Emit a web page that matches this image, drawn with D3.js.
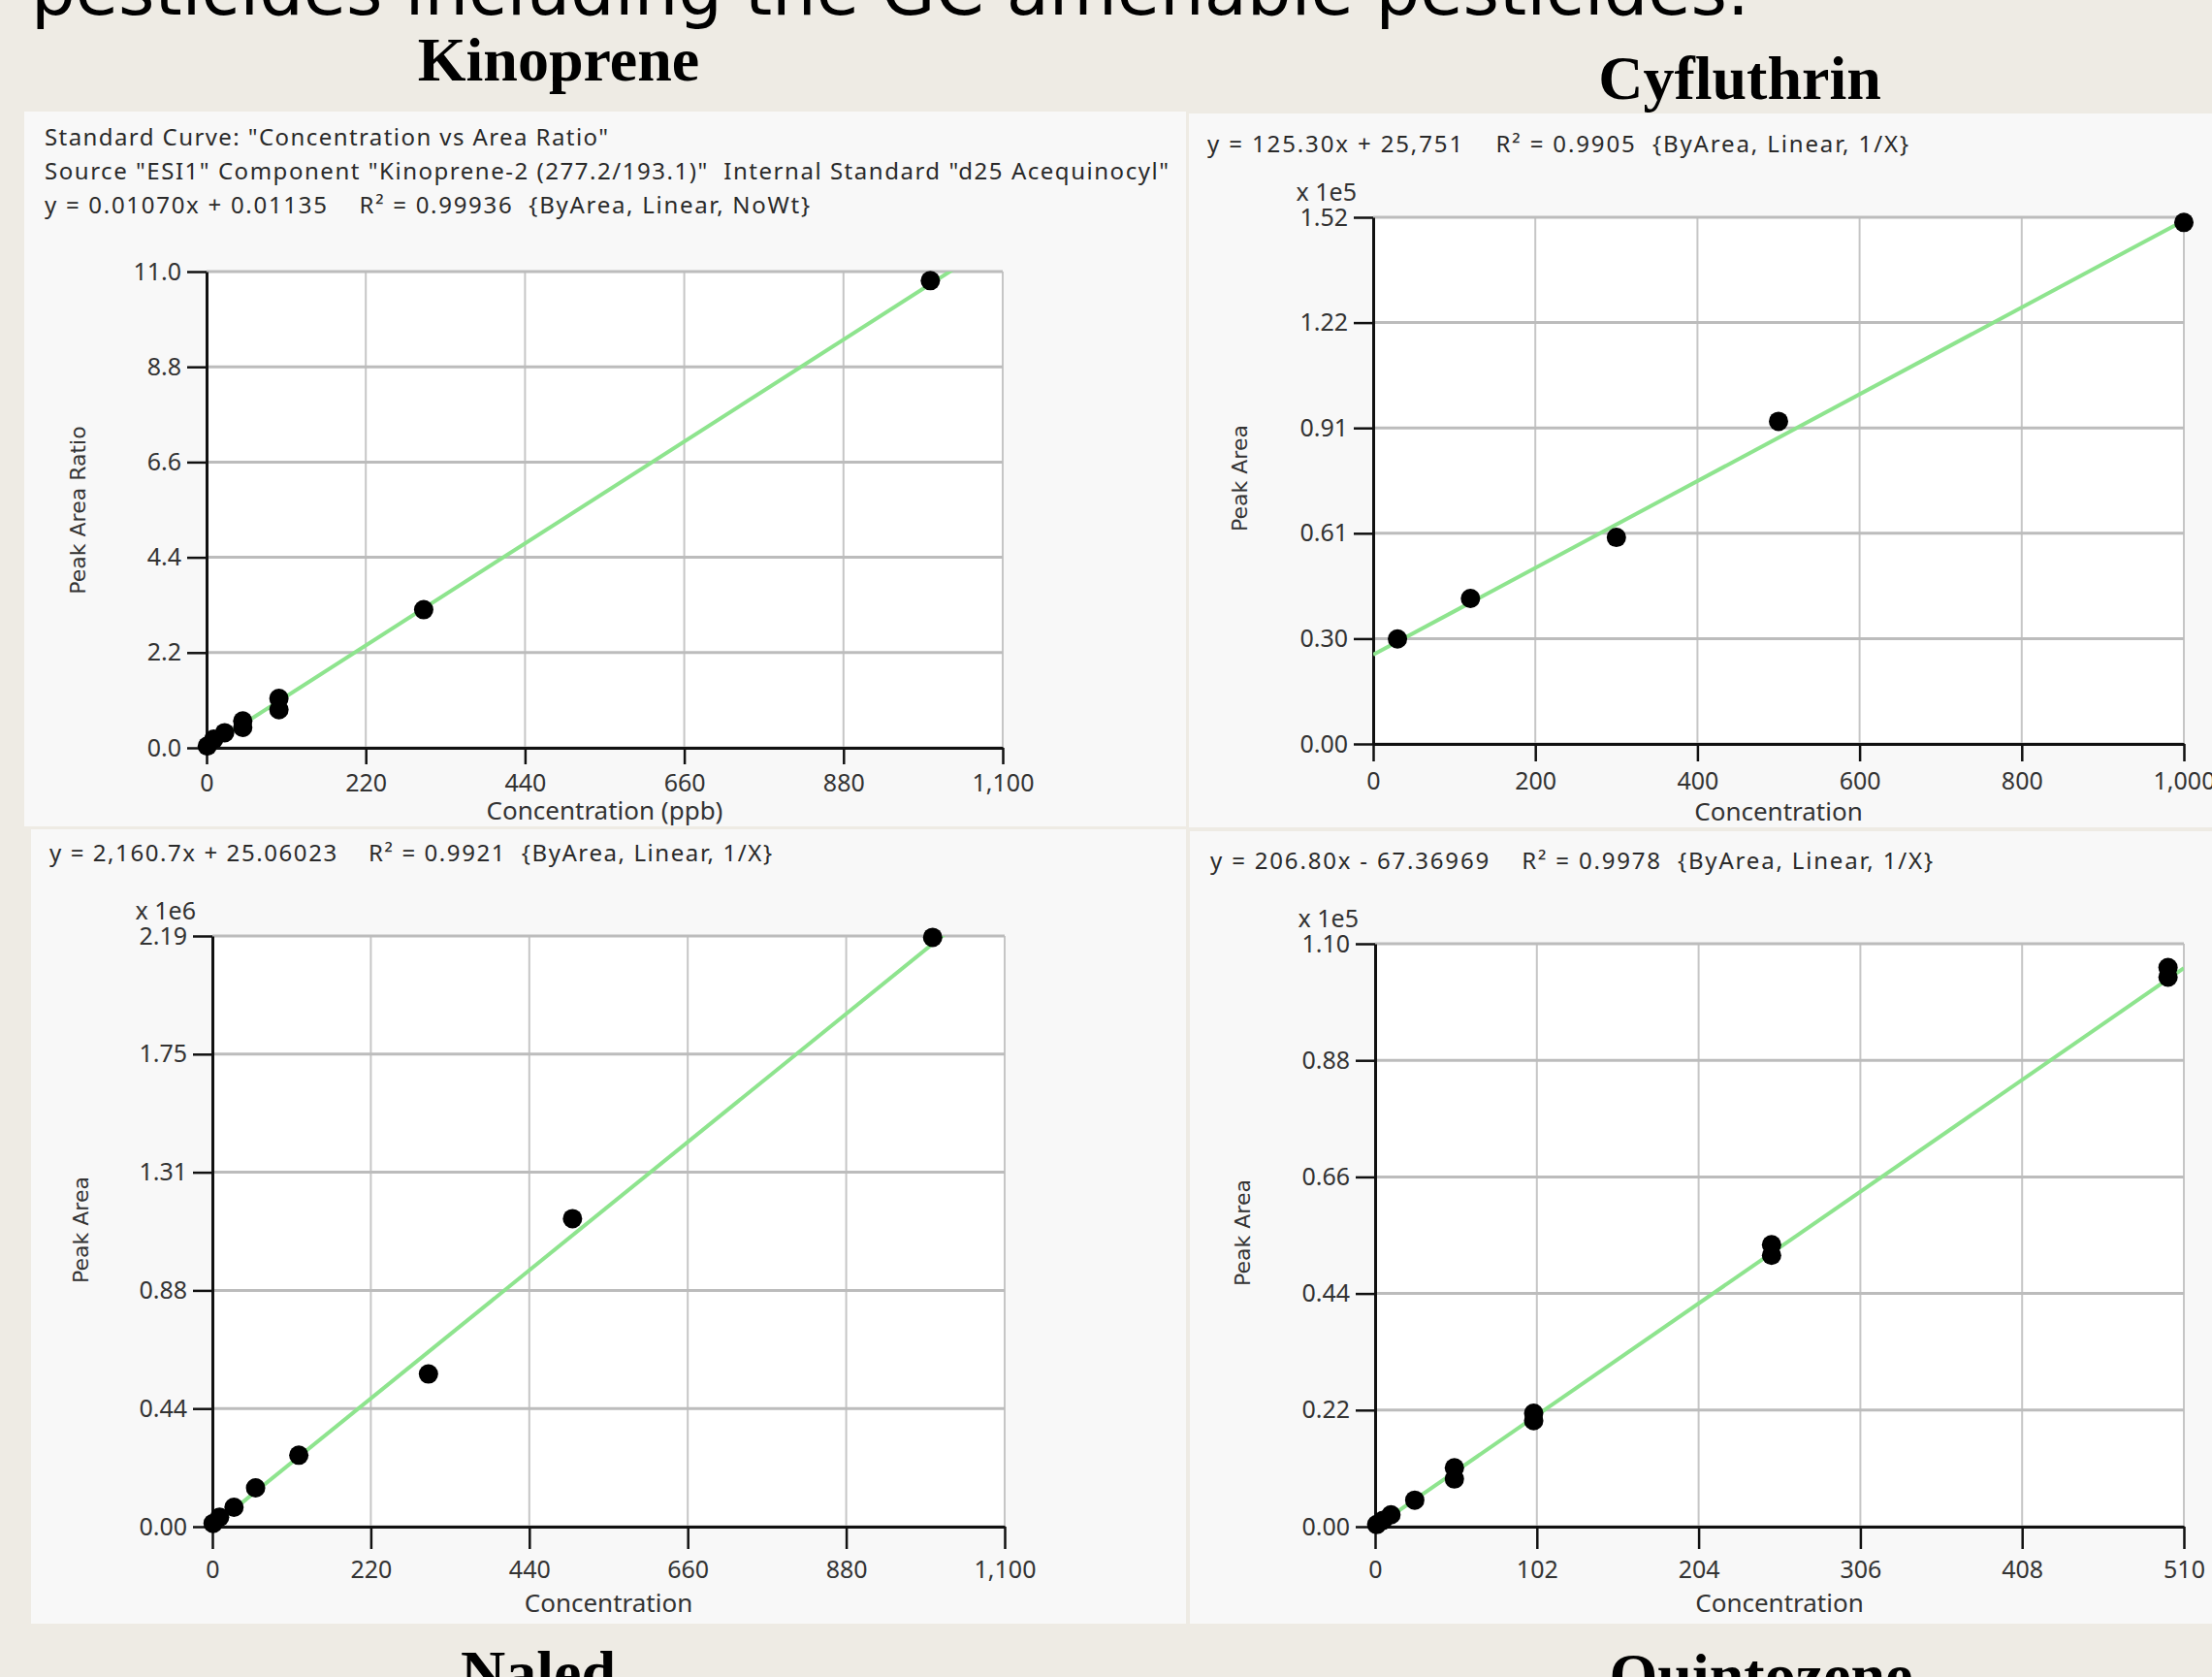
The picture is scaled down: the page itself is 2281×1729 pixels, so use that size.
<!DOCTYPE html>
<html>
<head>
<meta charset="utf-8">
<script src="https://cdn.jsdelivr.net/npm/d3@7"></script>
<style>
body { margin: 0; background: #eeebe4; }
svg { display: block; }
text { white-space: pre; }
.hdr { font-family: "Noto Sans", sans-serif; font-size: 24px; fill: #2a2a2a; }
.lbl { font-family: "Noto Sans", sans-serif; font-size: 25px; fill: #333; }
.atitle { font-family: "Noto Sans", sans-serif; font-size: 26px; fill: #333; }
.ytitle { font-family: "DejaVu Sans", sans-serif; font-size: 22px; fill: #333; }
.name { font-family: "Liberation Serif", "Times New Roman", serif; font-weight: bold; font-size: 64px; fill: #000; }
</style>
</head>
<body>
<svg id="fig" width="2281" height="1729"></svg>
<script>
// values

const kinopreneConc  = [1, 10, 25, 50, 50, 100, 100, 300, 1000];
const kinopreneRatio = [0.04, 0.2, 0.35, 0.47, 0.62, 0.88, 1.14, 3.19, 10.79];
const kinopreneFit   = [0.01070, 0.01135];          // slope, intercept
const kinopreneXTicks = [0, 220, 440, 660, 880, 1100];
const kinopreneYTicks = [0, 2.2, 4.4, 6.6, 8.8, 11.0];

const cyfluthrinConc = [30, 120, 300, 500, 1000];
const cyfluthrinArea = [30300, 42000, 59600, 93100, 150500];
const cyfluthrinFit  = [125.30, 25751];
const cyfluthrinXTicks = [0, 200, 400, 600, 800, 1000];
const cyfluthrinYTicks = [0, 30400, 60800, 91200, 121600, 152000];

const naledConc = [1, 10, 30, 60, 120, 300, 500, 1000];
const naledArea = [12000, 35000, 72000, 144000, 265000, 566000, 1142000, 2185000];
const naledFit  = [2160.7, 25.06023];
const naledXTicks = [0, 220, 440, 660, 880, 1100];
const naledYTicks = [0, 438000, 876000, 1314000, 1752000, 2190000];

const quintozeneConc = [1, 5, 10, 25, 50, 50, 100, 100, 250, 250, 500, 500];
const quintozeneArea = [400, 1200, 2250, 5000, 9000, 11100, 20000, 21400, 51200, 53200, 103700, 105500];
const quintozeneFit  = [206.80, -67.36969];
const quintozeneXTicks = [0, 102, 204, 306, 408, 510];
const quintozeneYTicks = [0, 22000, 44000, 66000, 88000, 110000];

const kinopreneHeader = [
    'Standard Curve: "Concentration vs Area Ratio"',
    'Source "ESI1" Component "Kinoprene-2 (277.2/193.1)"  Internal Standard "d25 Acequinocyl"',
    'y = 0.01070x + 0.01135    R\u00b2 = 0.99936  {ByArea, Linear, NoWt}'
];
const cyfluthrinHeader = ['y = 125.30x + 25,751    R\u00b2 = 0.9905  {ByArea, Linear, 1/X}'];
const naledHeader = ['y = 2,160.7x + 25.06023    R\u00b2 = 0.9921  {ByArea, Linear, 1/X}'];
const quintozeneHeader = ['y = 206.80x - 67.36969    R\u00b2 = 0.9978  {ByArea, Linear, 1/X}'];

const svg = d3.select("#fig");

svg.append("rect").attr("width", 2281).attr("height", 1729).attr("fill", "#eeebe4");

// slide title, cut off at the top edge
let title = svg.append("text")
    .attr("x", 32).attr("y", 15)
    .attr("font-family", "DejaVu Sans, sans-serif")
    .attr("font-size", 60)
    .attr("fill", "#000")
    .text("pesticides including the GC amenable pesticides.");
let tl = title.node().getComputedTextLength();
title.attr("font-size", 60 * 1772 / tl);

let clipId = 0;

function drawPanel(p) {
    let g = svg.append("g");
    let [bx0, by0, bx1, by1] = p.box;
    let [px0, py0, px1, py1] = p.plot;

    g.append("rect")
        .attr("x", bx0).attr("y", by0)
        .attr("width", bx1 - bx0).attr("height", by1 - by0)
        .attr("fill", "#f8f8f8");

    // header lines; the original font runs wider, so stretch the spacing to its width
    p.header.forEach((t, i) => {
        g.append("text")
            .attr("class", "hdr")
            .attr("x", p.headerAt[0])
            .attr("y", p.headerAt[1] + i * 35)
            .attr("dominant-baseline", "central")
            .attr("textLength", p.headerW[i])
            .attr("lengthAdjust", "spacing")
            .text(t);
    });

    let x = d3.scaleLinear().domain([0, d3.max(p.xTicks)]).range([px0, px1]);
    let y = d3.scaleLinear().domain([0, d3.max(p.yTicks)]).range([py1, py0]);

    g.append("rect")
        .attr("x", px0).attr("y", py0)
        .attr("width", px1 - px0).attr("height", py1 - py0)
        .attr("fill", "#fff");

    // grid
    g.append("g").selectAll("line")
        .data(p.xTicks)
        .enter()
        .append("line")
        .attr("x1", d => x(d)).attr("x2", d => x(d))
        .attr("y1", py0).attr("y2", py1)
        .attr("stroke", "#c6c6c6")
        .attr("stroke-width", 2);
    g.append("g").selectAll("line")
        .data(p.yTicks)
        .enter()
        .append("line")
        .attr("x1", px0).attr("x2", px1)
        .attr("y1", d => y(d)).attr("y2", d => y(d))
        .attr("stroke", "#bcbcbc")
        .attr("stroke-width", 3);

    // axes
    let xa = g.append("g")
        .attr("transform", `translate(0,${py1})`)
        .call(d3.axisBottom(x)
            .tickValues(p.xTicks)
            .tickFormat(d3.format(","))
            .tickSize(p.tickX)
            .tickSizeOuter(0)
            .tickPadding(p.padX));
    let ya = g.append("g")
        .attr("transform", `translate(${px0},0)`)
        .call(d3.axisLeft(y)
            .tickValues(p.yTicks)
            .tickFormat(p.yFormat)
            .tickSize(20)
            .tickSizeOuter(0)
            .tickPadding(6));
    [xa, ya].forEach(a => {
        a.attr("font-family", null).attr("font-size", null);
        a.selectAll("text").attr("class", "lbl");
        a.selectAll("line").attr("stroke", "#111").attr("stroke-width", 2.5);
        a.select(".domain").attr("stroke", "#111").attr("stroke-width", 3);
    });

    if (p.scaleNote) {
        g.append("text")
            .attr("class", "lbl")
            .attr("x", px0 - 17).attr("y", py0 - 27)
            .attr("text-anchor", "end")
            .attr("dominant-baseline", "central")
            .text(p.scaleNote);
    }

    g.append("text")
        .attr("class", "atitle")
        .attr("x", (px0 + px1) / 2)
        .attr("y", py1 + p.xTitleOff)
        .attr("text-anchor", "middle")
        .attr("dominant-baseline", "central")
        .text(p.xTitle);

    g.append("text")
        .attr("class", "ytitle")
        .attr("transform", `translate(${p.yTitleAt[0]},${p.yTitleAt[1]}) rotate(-90)`)
        .attr("text-anchor", "middle")
        .attr("dominant-baseline", "central")
        .text(p.yTitle);

    // fitted line, clipped to the plot box
    let id = "clip" + (clipId++);
    g.append("clipPath").attr("id", id)
        .append("rect")
        .attr("x", px0).attr("y", py0)
        .attr("width", px1 - px0).attr("height", py1 - py0);

    let xmax = d3.max(p.xTicks);
    let line = d3.line().x(d => x(d)).y(d => y(p.fit[0] * d + p.fit[1]));
    g.append("path")
        .datum([0, xmax])
        .attr("d", line)
        .attr("fill", "none")
        .attr("stroke", "#8ee48e")
        .attr("stroke-width", 4)
        .attr("clip-path", `url(#${id})`);

    g.append("g").selectAll("circle")
        .data(p.xs.map((c, i) => [c, p.ys[i]]))
        .enter()
        .append("circle")
        .attr("cx", d => x(d[0]))
        .attr("cy", d => y(d[1]))
        .attr("r", 10)
        .attr("fill", "#000");

    svg.append("text")
        .attr("class", "name")
        .attr("x", p.nameAt[0]).attr("y", p.nameAt[1])
        .attr("text-anchor", "middle")
        .text(p.name);
}

drawPanel({
    name: "Kinoprene", nameAt: [576, 83],
    box: [25, 115, 1223, 852], plot: [213, 280, 1034, 771],
    header: kinopreneHeader, headerAt: [46, 140], headerW: [581, 1159, 789],
    xs: kinopreneConc, ys: kinopreneRatio, fit: kinopreneFit,
    xTicks: kinopreneXTicks, yTicks: kinopreneYTicks,
    yFormat: d3.format(".1f"), scaleNote: null,
    tickX: 17, padX: 10, xTitleOff: 64,
    xTitle: "Concentration (ppb)", yTitle: "Peak Area Ratio", yTitleAt: [80, 526]
});

drawPanel({
    name: "Cyfluthrin", nameAt: [1794, 102],
    box: [1226, 117, 2281, 853], plot: [1416, 224, 2252, 767],
    header: cyfluthrinHeader, headerAt: [1245, 147], headerW: [723],
    xs: cyfluthrinConc, ys: cyfluthrinArea, fit: cyfluthrinFit,
    xTicks: cyfluthrinXTicks, yTicks: cyfluthrinYTicks,
    yFormat: d => d3.format(".2f")(d / 1e5), scaleNote: "x 1e5",
    tickX: 18, padX: 11, xTitleOff: 69,
    xTitle: "Concentration", yTitle: "Peak Area", yTitleAt: [1278, 493]
});

drawPanel({
    name: "Naled", nameAt: [555, 1746],
    box: [32, 855, 1223, 1674], plot: [219, 965, 1036, 1574],
    header: naledHeader, headerAt: [51, 878], headerW: [745],
    xs: naledConc, ys: naledArea, fit: naledFit,
    xTicks: naledXTicks, yTicks: naledYTicks,
    yFormat: d => d3.format(".2f")(d / 1e6), scaleNote: "x 1e6",
    tickX: 23, padX: 12, xTitleOff: 78,
    xTitle: "Concentration", yTitle: "Peak Area", yTitleAt: [83, 1268]
});

drawPanel({
    name: "Quintozene", nameAt: [1816, 1749],
    box: [1227, 857, 2281, 1674], plot: [1418, 973, 2252, 1574],
    header: quintozeneHeader, headerAt: [1248, 886], headerW: [745],
    xs: quintozeneConc, ys: quintozeneArea, fit: quintozeneFit,
    xTicks: quintozeneXTicks, yTicks: quintozeneYTicks,
    yFormat: d => d3.format(".2f")(d / 1e5), scaleNote: "x 1e5",
    tickX: 23, padX: 12, xTitleOff: 78,
    xTitle: "Concentration", yTitle: "Peak Area", yTitleAt: [1281, 1271]
});
</script>
</body>
</html>
